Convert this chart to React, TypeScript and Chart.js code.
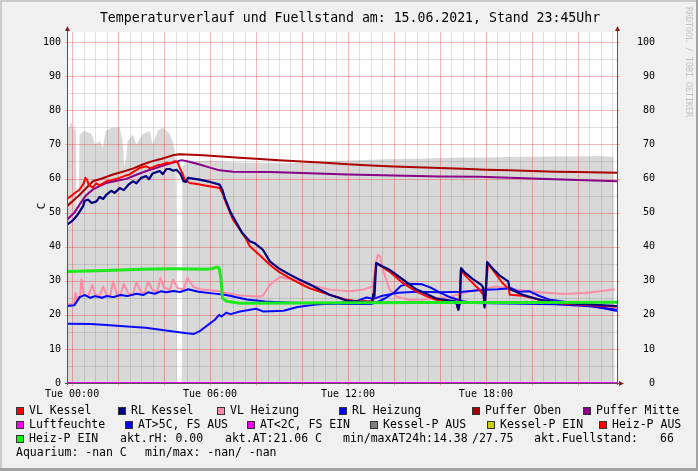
import React, { useEffect, useRef } from 'react';
import { Chart, registerables } from 'chart.js';

Chart.register(...registerables);

// ---------- data ----------
const X_MIN = -0.22; // hours relative to Tue 00:00
const X_MAX = 23.7;
const Y_MIN = 0;
const Y_MAX = 103;

const xTickHours = [0, 6, 12, 18];
const xTickLabels = ['Tue 00:00', 'Tue 06:00', 'Tue 12:00', 'Tue 18:00'];
const yTickValues = [0, 10, 20, 30, 40, 50, 60, 70, 80, 90, 100];

const titleText = 'Temperaturverlauf und Fuellstand am: 15.06.2021, Stand 23:45Uhr';
const yAxisTitle = 'C';
const watermarkText = 'RRDTOOL / TOBI OETIKER';

const legendNames = [
  'VL Kessel', 'RL Kessel', 'VL Heizung', 'RL Heizung', 'Puffer Oben', 'Puffer Mitte',
  'Luftfeuchte', 'AT>5C, FS AUS', 'AT<2C, FS EIN', 'Kessel-P AUS', 'Kessel-P EIN', 'Heiz-P AUS',
  'Heiz-P EIN',
];
const infoTexts = [
  'akt.rH: 0.00', 'akt.AT:21.06 C', 'min/maxAT24h:14.38', '/27.75', 'akt.Fuellstand:', '66',
  'Aquarium: -nan C', 'min/max: -nan/ -nan',
];

type P = [number, number];

const vlKessel: P[] = [
  [-0.22, 54.0], [0.04, 55.3], [0.33, 56.8], [0.5, 58.5], [0.58, 60.2], [0.66, 59.5], [0.72, 58.2],
  [0.9, 57.3], [1.05, 58.6], [1.2, 58.0], [1.5, 59.2], [1.75, 59.6], [2.07, 60.2], [2.3, 60.8],
  [2.5, 61.2], [2.65, 61.9], [2.94, 63.1], [3.23, 63.6], [3.4, 63.0], [3.67, 63.8], [3.9, 64.1],
  [4.1, 64.6], [4.3, 64.5], [4.47, 65.1], [4.6, 64.6], [4.68, 63.1], [4.8, 61.5], [4.9, 59.7],
  [5.12, 58.7], [5.5, 58.3], [5.84, 57.9], [6.42, 57.2], [6.55, 55.5], [6.64, 53.8], [7.0, 47.9],
  [7.3, 45.0], [7.58, 42.1], [7.73, 40.1], [8.16, 37.5], [8.6, 34.7], [9.0, 32.6], [9.47, 30.8],
  [9.9, 29.2], [10.33, 27.8], [10.8, 26.8], [11.2, 25.9], [11.6, 25.1], [11.93, 24.4], [12.4, 24.0],
  [13.09, 24.0], [13.15, 30.0], [13.23, 35.2], [13.5, 34.0], [13.8, 32.7], [14.1, 31.0], [14.4, 29.3],
  [14.7, 28.0], [14.97, 26.9], [15.4, 25.5], [15.84, 24.4], [16.3, 24.0], [16.7, 23.8], [16.8, 21.5],
  [16.85, 24.0], [16.9, 33.2], [17.1, 31.5], [17.43, 29.3], [17.7, 27.5], [17.9, 25.8], [17.94, 22.5],
  [18.0, 28.0], [18.09, 35.2], [18.3, 33.2], [18.45, 31.8], [18.7, 29.5], [19.0, 27.5], [19.03, 25.9],
  [19.6, 25.6], [20.3, 24.5], [21.3, 23.3], [22.5, 22.8], [23.7, 22.4],
];

const rlKessel: P[] = [
  [-0.22, 46.5], [0.0, 47.5], [0.19, 48.9], [0.35, 50.5], [0.48, 51.9], [0.55, 53.5], [0.7, 53.8],
  [0.85, 52.8], [1.06, 53.3], [1.2, 54.6], [1.35, 54.0], [1.5, 55.3], [1.7, 56.4], [1.85, 55.8],
  [2.07, 57.2], [2.25, 56.6], [2.45, 58.2], [2.65, 59.2], [2.8, 58.6], [3.0, 60.2], [3.23, 60.7],
  [3.35, 59.8], [3.5, 61.5], [3.81, 62.2], [3.95, 61.3], [4.1, 62.8], [4.25, 62.8], [4.4, 62.3],
  [4.54, 62.6], [4.7, 61.5], [4.85, 59.2], [4.95, 59.0], [5.04, 60.2], [5.55, 59.7], [6.0, 59.0],
  [6.42, 58.2], [6.55, 56.5], [6.64, 54.3], [6.9, 50.0], [7.15, 47.0], [7.4, 44.0], [7.73, 41.6],
  [7.95, 41.0], [8.3, 39.1], [8.6, 35.7], [9.0, 33.6], [9.47, 31.8], [9.9, 30.3], [10.33, 29.0],
  [10.8, 27.3], [11.2, 25.9], [11.6, 25.0], [11.93, 24.2], [12.5, 23.9], [13.05, 23.7], [13.1, 26.0],
  [13.15, 25.5], [13.23, 35.2], [13.5, 34.2], [13.81, 33.2], [14.1, 31.8], [14.4, 30.3], [14.7, 28.8],
  [14.97, 27.5], [15.4, 26.2], [15.84, 24.8], [16.3, 24.3], [16.7, 23.9], [16.8, 21.5], [16.87, 23.5],
  [16.92, 33.7], [17.1, 32.3], [17.43, 30.5], [17.8, 28.8], [17.88, 28.0], [17.94, 22.2], [18.0, 27.0],
  [18.05, 35.5], [18.3, 33.5], [18.6, 31.5], [18.97, 29.8], [19.03, 27.6], [19.6, 25.9], [20.3, 24.5],
  [21.0, 23.7], [22.0, 23.2], [23.7, 22.6],
];

const vlHeizung: P[] = [
  [-0.22, 23.1], [0.1, 23.3], [0.15, 26.4], [0.22, 24.5], [0.35, 25.5], [0.41, 30.5], [0.5, 26.0],
  [0.7, 25.5], [0.89, 28.8], [1.0, 26.0], [1.2, 25.6], [1.35, 28.3], [1.5, 25.9], [1.65, 25.4],
  [1.78, 29.8], [1.95, 26.0], [2.1, 25.5], [2.25, 29.1], [2.45, 26.2], [2.65, 25.9], [2.8, 29.5],
  [3.0, 26.6], [3.15, 26.4], [3.31, 29.8], [3.5, 27.2], [3.7, 26.8], [3.84, 30.8], [4.0, 28.0],
  [4.25, 27.4], [4.39, 30.3], [4.6, 27.8], [4.85, 27.5], [5.02, 30.8], [5.26, 28.3], [5.55, 27.5],
  [6.42, 26.9], [6.72, 26.4], [7.29, 25.7], [8.16, 25.4], [8.3, 25.6], [8.6, 28.8], [9.03, 31.1],
  [9.47, 30.5], [10.33, 28.8], [11.2, 27.4], [12.07, 26.9], [12.65, 27.4], [13.09, 28.3], [13.2, 35.0],
  [13.3, 37.6], [13.4, 37.1], [13.52, 33.2], [13.81, 27.4], [14.1, 25.4], [14.68, 24.4], [15.27, 24.5],
  [16.0, 25.0], [16.4, 25.2], [17.0, 26.4], [17.73, 27.5], [18.45, 28.3], [19.16, 27.5], [20.33, 26.6],
  [21.36, 26.1], [22.37, 26.4], [23.6, 27.5],
];

const rlHeizung: P[] = [
  [-0.22, 22.6], [0.1, 22.8], [0.33, 25.2], [0.55, 25.8], [0.8, 25.0], [1.0, 25.5], [1.3, 25.0],
  [1.5, 25.5], [1.8, 25.2], [2.1, 25.8], [2.4, 25.5], [2.8, 26.2], [3.1, 25.8], [3.3, 26.6],
  [3.6, 26.2], [3.85, 26.9], [4.1, 26.6], [4.4, 27.0], [4.7, 26.7], [5.05, 27.5], [5.5, 26.8],
  [6.1, 26.3], [6.7, 25.8], [7.6, 24.5], [8.4, 23.9], [9.0, 23.7], [10.0, 23.5], [11.0, 23.3],
  [12.0, 23.2], [13.0, 23.2], [13.3, 23.8], [13.6, 24.8], [14.0, 26.5], [14.3, 28.5], [14.6, 29.1],
  [15.2, 29.0], [15.6, 28.0], [16.0, 26.5], [16.5, 25.0], [17.0, 24.0], [17.5, 23.5], [19.0, 23.3],
  [21.0, 23.1], [22.5, 22.5], [23.7, 21.5],
];

const pufferOben: P[] = [
  [-0.22, 51.9], [0.3, 55.0], [0.91, 59.2], [1.3, 60.0], [1.78, 61.2], [2.2, 62.0], [2.64, 62.9],
  [3.1, 64.2], [3.5, 65.1], [3.9, 65.8], [4.38, 66.8], [4.65, 67.1], [5.5, 66.9], [6.5, 66.5],
  [7.29, 66.1], [8.0, 65.8], [9.0, 65.4], [10.0, 65.0], [11.0, 64.6], [12.0, 64.2], [13.0, 63.8],
  [14.0, 63.5], [15.0, 63.3], [16.0, 63.1], [17.0, 62.9], [18.0, 62.6], [19.0, 62.4], [20.0, 62.2],
  [21.0, 62.0], [22.0, 61.9], [23.7, 61.7],
];

const pufferMitte: P[] = [
  [-0.22, 47.9], [0.1, 50.0], [0.33, 52.4], [0.6, 55.0], [0.91, 56.8], [1.49, 58.7], [1.9, 59.3],
  [2.36, 59.9], [2.8, 61.1], [3.23, 62.2], [3.7, 63.2], [4.1, 64.1], [4.5, 64.9], [4.76, 65.4],
  [5.1, 64.9], [5.55, 64.1], [6.0, 63.2], [6.42, 62.4], [7.0, 62.0], [8.6, 61.9], [10.0, 61.6],
  [12.0, 61.2], [14.0, 60.9], [16.0, 60.6], [17.7, 60.5], [20.0, 60.0], [22.0, 59.6], [23.7, 59.2],
];

const luftfeuchte: P[] = [[-0.22, 0], [23.7, 0]];

const aussenTemp: P[] = [
  [-0.22, 17.4], [0.8, 17.3], [1.5, 17.0], [2.4, 16.6], [3.2, 16.2], [4.4, 15.1], [5.0, 14.6],
  [5.3, 14.4], [5.55, 15.2], [6.0, 17.5], [6.2, 18.5], [6.4, 20.0], [6.5, 19.5], [6.7, 20.6],
  [6.9, 20.2], [7.3, 21.0], [8.0, 21.8], [8.3, 21.0], [9.2, 21.2], [9.8, 22.3], [10.6, 23.0],
  [11.5, 23.4], [12.4, 24.1], [12.8, 25.1], [13.1, 24.7], [13.5, 25.6], [14.2, 26.5], [15.0, 26.8],
  [16.0, 26.6], [17.0, 26.8], [17.8, 27.3], [18.5, 27.5], [19.1, 27.8], [19.4, 26.8], [19.9, 26.9],
  [20.3, 25.6], [20.8, 24.4], [21.5, 23.8], [22.5, 22.8], [23.7, 21.1],
];

const heizPEin: P[] = [
  [-0.22, 32.7], [1.5, 33.0], [3.0, 33.4], [4.4, 33.5], [5.84, 33.4], [6.13, 33.6], [6.28, 34.0],
  [6.39, 33.8], [6.47, 31.0], [6.54, 24.9], [6.72, 24.0], [7.29, 23.4], [10.0, 23.5], [15.0, 23.6],
  [20.0, 23.6], [23.7, 23.7],
];

const fuellstandArea: P[] = [
  [-0.22, 76.5], [-0.12, 74.5], [-0.05, 77.0], [0.05, 74.0], [0.12, 76.0], [0.17, 73.0], [0.2, 52.0],
  [0.28, 52.0], [0.33, 73.0], [0.55, 74.0], [0.7, 73.5], [0.86, 73.0], [1.0, 70.0], [1.2, 71.0],
  [1.34, 69.0], [1.47, 74.0], [1.73, 75.0], [2.07, 75.0], [2.2, 71.0], [2.27, 63.5], [2.35, 66.0],
  [2.42, 71.0], [2.64, 73.0], [2.8, 70.0], [3.07, 73.0], [3.38, 74.0], [3.5, 70.0], [3.73, 74.0],
  [3.94, 75.0], [4.25, 73.0], [4.42, 70.0], [4.5, 66.0], [4.53, 50.0], [4.55, 0], [4.77, 0],
  [4.8, 63.5], [5.0, 65.0], [6.0, 65.3], [7.0, 64.8], [8.0, 64.6], [9.0, 64.5], [10.0, 64.7],
  [11.0, 65.0], [12.0, 65.3], [13.0, 65.5], [14.0, 65.7], [15.0, 65.8], [16.0, 66.0], [17.0, 66.2],
  [18.0, 66.2], [19.0, 66.3], [20.0, 66.4], [21.0, 66.5], [22.0, 66.5], [23.0, 66.6], [23.55, 66.3],
  [23.6, 0],
];

// ---------- styles / layout ----------
const CANVAS_W = 698;
const CANVAS_H = 471;
const MONO = '"DejaVu Sans Mono", monospace';

const legendColors = [
  '#ff0000', '#000080', '#ff8ca6', '#0000ff', '#aa0000', '#880088',
  '#ff00ff', '#0000ff', '#ee00ee', '#808080', '#cccc00', '#ff0000',
  '#00ff00',
];
const legendBoxX = [16, 118, 217, 339, 472, 583, 16, 125, 247, 370, 487, 599, 16];
const legendRow = [0, 0, 0, 0, 0, 0, 1, 1, 1, 1, 1, 1, 2];
const infoX = [120, 225, 343, 472, 534, 660, 16, 145];
const infoRow = [2, 2, 2, 2, 2, 2, 3, 3];
const rowY = [411, 425, 439, 453];

const toXY = (arr: P[]) => arr.map(([x, y]) => ({ x, y }));

const lineDs = (label: string, data: P[], color: string, width = 2) => ({
  label,
  data: toXY(data),
  borderColor: color,
  backgroundColor: color,
  borderWidth: width,
  pointRadius: 0,
  tension: 0,
  fill: false,
  borderJoinStyle: 'round' as const,
});

const AREA_INDEX = 9;

const decorPlugin = {
  id: 'rrdDecor',
  beforeDraw(chart: any) {
    const ctx = chart.ctx as CanvasRenderingContext2D;
    const { left, right, top, bottom } = chart.chartArea;
    ctx.save();
    ctx.fillStyle = '#f0f0f0';
    ctx.fillRect(0, 0, CANVAS_W, CANVAS_H);
    ctx.fillStyle = '#cbcbcb';
    ctx.fillRect(0, 0, CANVAS_W, 2);
    ctx.fillRect(0, 0, 2, CANVAS_H);
    ctx.fillStyle = '#a3a3a3';
    ctx.fillRect(0, CANVAS_H - 3, CANVAS_W, 3);
    ctx.fillRect(CANVAS_W - 2, 0, 2, CANVAS_H);
    ctx.fillStyle = '#ffffff';
    ctx.fillRect(left, top, right - left, bottom - top);
    ctx.restore();
  },
  afterDatasetDraw(chart: any, args: any) {
    if (args.index !== AREA_INDEX) return;
    const ctx = chart.ctx as CanvasRenderingContext2D;
    const { left, right, top, bottom } = chart.chartArea;
    const xs = chart.scales.x;
    const ys = chart.scales.y;
    ctx.save();
    ctx.lineWidth = 1;
    // minor
    ctx.strokeStyle = 'rgba(100,100,100,0.2)';
    ctx.beginPath();
    for (let v = 5; v <= Y_MAX; v += 10) {
      const y = Math.round(ys.getPixelForValue(v)) + 0.5;
      ctx.moveTo(left, y);
      ctx.lineTo(right, y);
    }
    for (let h = Math.ceil(X_MIN * 2) / 2; h <= X_MAX; h += 0.5) {
      if (Math.abs(h / 2 - Math.round(h / 2)) < 1e-6) continue;
      const x = Math.round(xs.getPixelForValue(h)) + 0.5;
      ctx.moveTo(x, top);
      ctx.lineTo(x, bottom);
    }
    ctx.stroke();
    // major
    ctx.strokeStyle = 'rgba(225,0,0,0.28)';
    ctx.beginPath();
    for (let v = 10; v <= Y_MAX; v += 10) {
      const y = Math.round(ys.getPixelForValue(v)) + 0.5;
      ctx.moveTo(left - 2, y);
      ctx.lineTo(right + 3, y);
    }
    for (let h = 0; h <= X_MAX; h += 2) {
      const x = Math.round(xs.getPixelForValue(h)) + 0.5;
      ctx.moveTo(x, top);
      ctx.lineTo(x, bottom + 3);
    }
    ctx.stroke();
    ctx.restore();
  },
  afterDraw(chart: any) {
    const ctx = chart.ctx as CanvasRenderingContext2D;
    const { left, right, top, bottom } = chart.chartArea;
    ctx.save();
    // axes
    ctx.strokeStyle = '#555555';
    ctx.lineWidth = 1;
    ctx.beginPath();
    ctx.moveTo(left - 2, bottom + 0.5);
    ctx.lineTo(right + 3, bottom + 0.5);
    ctx.moveTo(left + 0.5, bottom + 2);
    ctx.lineTo(left + 0.5, top - 2);
    ctx.moveTo(right + 0.5, bottom + 2);
    ctx.lineTo(right + 0.5, top - 2);
    ctx.stroke();
    // arrows
    ctx.fillStyle = '#8b1c1c';
    const tri = (pts: number[]) => {
      ctx.beginPath();
      ctx.moveTo(pts[0], pts[1]);
      ctx.lineTo(pts[2], pts[3]);
      ctx.lineTo(pts[4], pts[5]);
      ctx.closePath();
      ctx.fill();
    };
    tri([left - 2, top - 1, left + 3, top - 1, left + 0.5, top - 6]);
    tri([right - 2, top - 1, right + 3, top - 1, right + 0.5, top - 6]);
    tri([right + 2, bottom - 2, right + 2, bottom + 3, right + 7, bottom + 0.5]);

    // title
    ctx.fillStyle = '#000000';
    ctx.font = `13.2px ${MONO}`;
    ctx.textAlign = 'center';
    ctx.textBaseline = 'alphabetic';
    ctx.fillText(titleText, 350, 21.5);

    // y axis title
    ctx.save();
    ctx.translate(42, 206);
    ctx.rotate(-Math.PI / 2);
    ctx.font = `11px ${MONO}`;
    ctx.textBaseline = 'middle';
    ctx.textAlign = 'center';
    ctx.fillText(yAxisTitle, 0, 0);
    ctx.restore();

    // watermark
    ctx.save();
    ctx.translate(688, 7);
    ctx.rotate(Math.PI / 2);
    ctx.font = `8.3px ${MONO}`;
    ctx.fillStyle = '#c2c2c2';
    ctx.textAlign = 'left';
    ctx.textBaseline = 'middle';
    ctx.fillText(watermarkText, 0, 0);
    ctx.restore();

    // legend
    ctx.font = `11.5px ${MONO}`;
    ctx.textAlign = 'left';
    ctx.textBaseline = 'middle';
    legendNames.forEach((name, i) => {
      const x = legendBoxX[i];
      const y = rowY[legendRow[i]];
      ctx.fillStyle = legendColors[i];
      ctx.fillRect(x, y - 4, 8, 8);
      ctx.strokeStyle = '#333333';
      ctx.lineWidth = 1;
      ctx.strokeRect(x + 0.5, y - 3.5, 7, 7);
      ctx.fillStyle = '#000000';
      ctx.fillText(name, x + 13, y + 0.5);
    });
    infoTexts.forEach((t, i) => {
      ctx.fillStyle = '#000000';
      ctx.fillText(t, infoX[i], rowY[infoRow[i]] + 0.5);
    });
    ctx.restore();
  },
};

export default function App() {
  const ref = useRef<HTMLCanvasElement | null>(null);

  useEffect(() => {
    document.body.style.margin = '0';
    document.body.style.background = '#f0f0f0';
    const canvas = ref.current;
    if (!canvas) return;

    const datasets: any[] = [
      lineDs('Heiz-P EIN', heizPEin, '#1ee81e', 3),
      lineDs('RL Kessel', rlKessel, '#000080', 2.2),
      lineDs('VL Kessel', vlKessel, '#ff0000', 2),
      lineDs('RL Heizung', rlHeizung, '#0000ff', 2),
      lineDs('AT>5C, FS AUS', aussenTemp, '#0a0aff', 2),
      lineDs('VL Heizung', vlHeizung, '#ff8ca6', 2),
      lineDs('Puffer Oben', pufferOben, '#aa0000', 2),
      lineDs('Puffer Mitte', pufferMitte, '#880088', 2),
      lineDs('Luftfeuchte', luftfeuchte, '#ee00ee', 2),
      {
        label: 'Fuellstand',
        data: toXY(fuellstandArea),
        borderWidth: 0,
        borderColor: 'rgba(0,0,0,0)',
        backgroundColor: '#d8d8d8',
        pointRadius: 0,
        tension: 0,
        fill: 'origin',
        order: 10,
      },
    ];

    const tickFont = { family: MONO, size: 10 };

    const chart = new Chart(canvas, {
      type: 'line',
      data: { datasets },
      plugins: [decorPlugin],
      options: {
        responsive: false,
        animation: false,
        devicePixelRatio: 1,
        events: [],
        layout: { padding: { top: 32, left: 0, right: 0, bottom: 0 } },
        plugins: {
          legend: { display: false },
          tooltip: { enabled: false },
          title: { display: false },
        },
        scales: {
          x: {
            type: 'linear',
            min: X_MIN,
            max: X_MAX,
            afterBuildTicks: (s: any) => {
              s.ticks = xTickHours.map((v) => ({ value: v }));
            },
            afterFit: (s: any) => {
              s.height = CANVAS_H - 383;
            },
            grid: { display: false, drawTicks: false },
            border: { display: false },
            ticks: {
              autoSkip: false,
              maxRotation: 0,
              minRotation: 0,
              padding: 5,
              color: '#000000',
              font: tickFont,
              callback: (v: any) => {
                const i = xTickHours.indexOf(Number(v));
                return i >= 0 ? xTickLabels[i] : '';
              },
            },
          },
          y: {
            type: 'linear',
            position: 'left',
            min: Y_MIN,
            max: Y_MAX,
            afterBuildTicks: (s: any) => {
              s.ticks = yTickValues.map((v) => ({ value: v }));
            },
            afterFit: (s: any) => {
              s.width = 67;
            },
            grid: { display: false, drawTicks: false },
            border: { display: false },
            ticks: { padding: 6, color: '#000000', font: tickFont },
          },
          y2: {
            type: 'linear',
            position: 'right',
            min: Y_MIN,
            max: Y_MAX,
            afterBuildTicks: (s: any) => {
              s.ticks = yTickValues.map((v) => ({ value: v }));
            },
            afterFit: (s: any) => {
              s.width = CANVAS_W - 617;
            },
            grid: { display: false, drawTicks: false },
            border: { display: false },
            ticks: {
              padding: 20,
              crossAlign: 'near',
              color: '#000000',
              font: tickFont,
              callback: (v: any) => String(v).padStart(3, ' '),
            },
          },
        },
      } as any,
    });

    return () => {
      chart.destroy();
    };
  }, []);

  return (
    <canvas
      ref={ref}
      width={CANVAS_W}
      height={CANVAS_H}
      style={{ display: 'block', width: CANVAS_W, height: CANVAS_H }}
    />
  );
}
